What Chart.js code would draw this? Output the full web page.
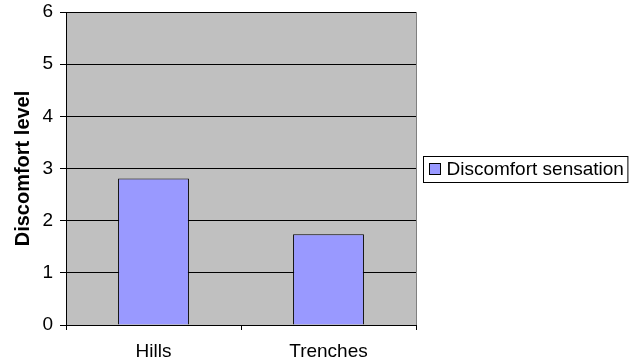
<!DOCTYPE html>
<html><head><meta charset="utf-8">
<script src="https://cdn.jsdelivr.net/npm/chart.js@4"></script>
<style>html,body{margin:0;padding:0;background:#fff}#wrap{width:636px;height:364px}</style>
</head><body><div id="wrap"><canvas id="c" width="636" height="364"></canvas></div>
<script>
const categories = ['Hills', 'Trenches'];
const seriesName = 'Discomfort sensation';
const discomfort = [2.81, 1.74];
const yTickValues = [0, 1, 2, 3, 4, 5, 6];
const yTitle = 'Discomfort level';

const FONT = 'Liberation Sans, Arial, Helvetica, sans-serif';
const BAR_FILL = '#9999ff';

const plotBg = {
  id: 'plotBg',
  beforeDraw(chart) {
    const a = chart.chartArea, ctx = chart.ctx;
    ctx.save();
    ctx.fillStyle = '#c0c0c0';
    ctx.fillRect(a.left, a.top, a.right - a.left, a.bottom - a.top);
    ctx.restore();
  },
  beforeDatasetsDraw(chart) {
    const a = chart.chartArea, ctx = chart.ctx;
    ctx.save();
    ctx.strokeStyle = '#808080';
    ctx.lineWidth = 1;
    ctx.beginPath();
    ctx.moveTo(Math.round(a.right) + 0.5, a.top);
    ctx.lineTo(Math.round(a.right) + 0.5, a.bottom);
    ctx.stroke();
    ctx.restore();
  }
};

const boxedLegend = {
  id: 'boxedLegend',
  afterDraw(chart) {
    const a = chart.chartArea, ctx = chart.ctx;
    const ds = chart.data.datasets[0];
    ctx.save();
    ctx.font = '19px ' + FONT;
    const tw = ctx.measureText(ds.label).width;
    const x0 = Math.round(a.right) + 7.5;
    const h = 26;
    const cy = (a.top + a.bottom) / 2;
    const y0 = Math.round(cy - h / 2) + 0.5;
    const w = 6 + 11 + 6 + tw + 4;
    ctx.fillStyle = '#fff';
    ctx.fillRect(x0, y0, w, h);
    ctx.strokeStyle = '#000';
    ctx.lineWidth = 1;
    ctx.strokeRect(x0, y0, w, h);
    const sx = x0 + 6, sy = Math.round(cy - 5.5) + 0.5;
    ctx.fillStyle = ds.backgroundColor;
    ctx.fillRect(sx, sy, 11, 11);
    ctx.strokeStyle = '#000';
    ctx.strokeRect(sx, sy, 11, 11);
    ctx.fillStyle = '#000';
    ctx.textBaseline = 'middle';
    ctx.textAlign = 'left';
    ctx.fillText(ds.label, sx + 17, cy + 1);
    ctx.restore();
  }
};

new Chart(document.getElementById('c'), {
  type: 'bar',
  data: {
    labels: categories,
    datasets: [{
      label: seriesName,
      data: discomfort,
      backgroundColor: BAR_FILL,
      borderColor: '#000',
      borderWidth: 1,
      barPercentage: 0.405,
      categoryPercentage: 1
    }]
  },
  options: {
    responsive: false,
    animation: false,
    layout: { padding: { top: 12, right: 220, left: 0, bottom: 0 } },
    plugins: { legend: { display: false }, tooltip: { enabled: false } },
    scales: {
      x: {
        offset: true,
        grid: { offset: true, drawOnChartArea: false, drawTicks: true, tickLength: 5, color: '#000' },
        border: { color: '#000', width: 1 },
        ticks: { color: '#000', font: { family: FONT, size: 19 }, padding: 10, maxRotation: 0 },
        afterFit(s) { s.height = 39; s.paddingLeft = 0; s.paddingRight = 0; }
      },
      y: {
        min: 0, max: 6,
        afterBuildTicks(s) { s.ticks = yTickValues.map(v => ({ value: v })); },
        grid: { color: '#000', tickLength: 6, drawTicks: true },
        border: { color: '#000', width: 1 },
        ticks: { color: '#000', font: { family: FONT, size: 19 }, padding: 7 },
        title: { display: true, text: yTitle, color: '#000', font: { family: FONT, size: 20, weight: 'bold' }, padding: { top: 11, bottom: 4 } },
        afterFit(s) { s.width = 66; s.paddingTop = 0; s.paddingBottom = 0; }
      }
    }
  },
  plugins: [plotBg, boxedLegend]
});
</script></body></html>
